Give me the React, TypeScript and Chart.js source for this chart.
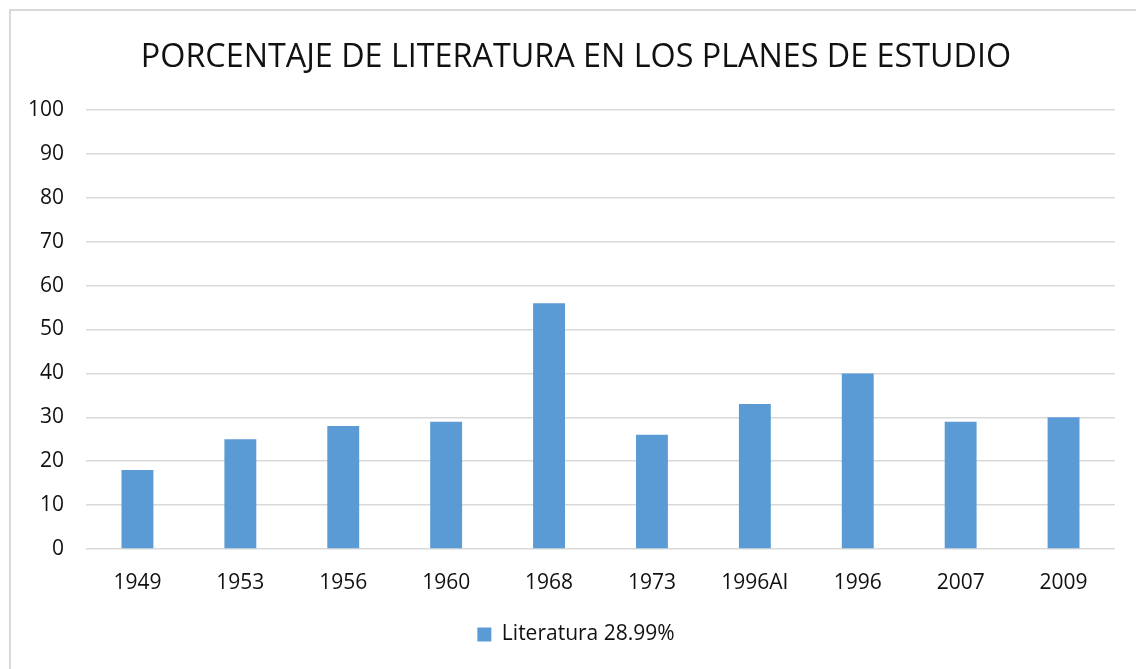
import React, { useEffect, useRef } from "react";
import { Chart, registerables } from "chart.js";

Chart.register(...registerables);

const categories = ["1949", "1953", "1956", "1960", "1968", "1973", "1996AI", "1996", "2007", "2009"];
const values = [18, 25, 28, 29, 56, 26, 33, 40, 29, 30];
const seriesLabel = "Literatura 28.99%";
const titleText = "PORCENTAJE DE LITERATURA EN LOS PLANES DE ESTUDIO";

export default function App() {
  const ref = useRef<HTMLCanvasElement | null>(null);
  useEffect(() => {
    if (!ref.current) return;
    const chart = new Chart(ref.current, {
      type: "bar",
      data: {
        labels: categories,
        datasets: [
          {
            label: seriesLabel,
            data: values,
            backgroundColor: "#5B9BD5",
            borderWidth: 0,
            barPercentage: 0.62,
            categoryPercentage: 0.5,
            yAxisID: "y",
          },
        ],
      },
      options: {
        responsive: false,
        animation: false,
        layout: { padding: { left: 0, right: 0, top: 0, bottom: 14 } },
        font: { family: "'Open Sans', sans-serif" },
        plugins: {
          title: {
            display: true,
            text: titleText,
            color: "#111",
            font: { family: "'Open Sans', sans-serif", size: 32.3, weight: "normal" },
            padding: { top: 27, bottom: 33.2 },
          },
          legend: {
            display: true,
            position: "bottom",
            labels: {
              color: "#111",
              boxWidth: 14,
              boxHeight: 14,
              padding: 10,
              font: { family: "'Open Sans', sans-serif", size: 21 },
            },
          },
          tooltip: { enabled: false },
        },
        scales: {
          x: {
            grid: { display: false, drawTicks: false },
            border: { display: false },
            ticks: {
              color: "#111",
              padding: 21,
              maxRotation: 0,
              font: { family: "'Open Sans', sans-serif", size: 21 },
            },
            afterFit: (s: any) => {
              s.height = 65;
            },
          },
          y: {
            position: "left",
            min: 0,
            max: 100,
            grid: { color: "#d9d9d9", lineWidth: 1.5, drawTicks: false },
            border: { display: false },
            ticks: {
              stepSize: 10,
              color: "#111",
              padding: 22,
              font: { family: "'Open Sans', sans-serif", size: 21 },
            },
            afterFit: (s: any) => {
              s.width = 75;
            },
          },
          yRight: {
            position: "right",
            display: true,
            min: 0,
            max: 1,
            grid: { display: false, drawTicks: false },
            border: { display: false },
            ticks: { display: false },
            afterFit: (s: any) => {
              s.width = 26;
            },
          },
        },
      },
    });
    return () => chart.destroy();
  }, []);
  return (
    <div
      style={{
        position: "fixed",
        left: 9,
        top: 9,
        width: 1140,
        height: 680,
        border: "2px solid #d9d9d9",
        background: "#fff",
        boxSizing: "border-box",
        overflow: "hidden",
      }}
    >
      <canvas ref={ref} width={1130} height={658} style={{ display: "block" }} />
    </div>
  );
}
